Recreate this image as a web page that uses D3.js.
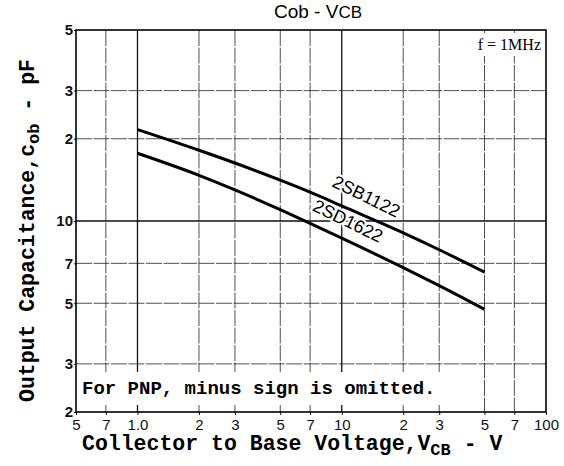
<!DOCTYPE html>
<html>
<head>
<meta charset="utf-8">
<script src="https://cdn.jsdelivr.net/npm/d3@7"></script>
<style>
  body { margin: 0; background: #fff; }
  svg { display: block; }
  .grid line { stroke: #222; stroke-width: 0.8; stroke-dasharray: 16 1.5; }
  .grid line.major { stroke: #111; stroke-width: 1.3; stroke-dasharray: none; }
  .tick text { fill: #111; }
</style>
</head>
<body>
<svg id="chart"></svg>
<script>
// data
const vcb = [1, 2, 3, 5, 7, 10, 20, 30, 50];
const cob2SB1122 = [21.6, 18.15, 16.3, 14.1, 12.75, 11.35, 9.05, 7.85, 6.5];
const cob2SD1622 = [17.7, 14.7, 13.0, 11.0, 9.8, 8.65, 6.75, 5.8, 4.75];

const xTicks = [0.5, 0.7, 1, 2, 3, 5, 7, 10, 20, 30, 50, 70, 100];
const xTickLabels = ['5', '7', '1.0', '2', '3', '5', '7', '10', '2', '3', '5', '7', '100'];
const yTicks = [2, 3, 5, 7, 10, 20, 30, 50];
const yTickLabels = ['2', '3', '5', '7', '10', '2', '3', '5'];

const width = 564, height = 466;
const margin = { top: 30, right: 18, bottom: 54, left: 76 };
const w = width - margin.left - margin.right;
const h = height - margin.top - margin.bottom;

const mono = '"Liberation Mono", "Courier New", monospace';
const narrow = '"Liberation Sans Narrow", "Liberation Sans", Arial, sans-serif';

const svg = d3.select('#chart').attr('width', width).attr('height', height);
svg.append('rect').attr('width', width).attr('height', height).attr('fill', '#fff');

const g = svg.append('g').attr('transform', `translate(${margin.left},${margin.top})`);

const x = d3.scaleLog().domain([0.5, 100]).range([0, w]);
const y = d3.scaleLog().domain([2, 50]).range([h, 0]);

// grid
const grid = g.append('g').attr('class', 'grid');
grid.selectAll('.vx')
  .data(xTicks.filter((d) => d > 0.5 && d < 100))
  .enter().append('line')
  .attr('class', (d) => d === 1 || d === 10 ? 'major' : null)
  .attr('x1', (d) => x(d)).attr('x2', (d) => x(d))
  .attr('y1', 0).attr('y2', h);
grid.selectAll('.hy')
  .data(yTicks.filter((d) => d > 2 && d < 50))
  .enter().append('line')
  .attr('class', (d) => d === 10 ? 'major' : null)
  .attr('x1', 0).attr('x2', w)
  .attr('y1', (d) => y(d)).attr('y2', (d) => y(d));

// axes
const xAxis = d3.axisBottom(x).tickValues(xTicks)
  .tickFormat((d, i) => xTickLabels[i]).tickSize(3).tickPadding(4);
const yAxis = d3.axisLeft(y).tickValues(yTicks)
  .tickFormat((d, i) => yTickLabels[i]).tickSize(2).tickPadding(1);

const xg = g.append('g').attr('transform', `translate(0,${h})`).call(xAxis);
xg.select('.domain').remove();
xg.selectAll('text').style('font-family', narrow).style('font-size', '15px');
xg.selectAll('line').attr('stroke', '#111');

const yg = g.append('g').call(yAxis);
yg.select('.domain').remove();
yg.selectAll('text').style('font-family', narrow).style('font-size', '15px').style('font-weight', 'bold');
yg.selectAll('line').attr('stroke', '#111');

// curves
const line = d3.line()
  .x((d) => x(d[0]))
  .y((d) => y(d[1]))
  .curve(d3.curveMonotoneX);

[cob2SB1122, cob2SD1622].forEach((series) => {
  g.append('path')
    .datum(vcb.map((v, i) => [v, series[i]]))
    .attr('fill', 'none')
    .attr('stroke', '#000')
    .attr('stroke-width', 3)
    .attr('d', line);
});

// curve labels, set along the lines
const labels = [
  { text: '2SB1122', v: 12.8, c: 11.75 },
  { text: '2SD1622', v: 10.4, c: 9.55 }
];
labels.forEach((l) => {
  g.append('text')
    .attr('transform', `translate(${x(l.v)},${y(l.c)}) rotate(26)`)
    .attr('text-anchor', 'middle')
    .style('font-family', narrow)
    .style('font-size', '18px')
    .attr('fill', '#000')
    .attr('stroke', '#fff')
    .attr('stroke-width', 4)
    .attr('paint-order', 'stroke')
    .text(l.text);
});

// f = 1MHz
g.append('rect').attr('x', w - 68).attr('y', 3).attr('width', 65).attr('height', 23).attr('fill', '#fff');
g.append('text')
  .attr('x', w - 5).attr('y', 20)
  .attr('text-anchor', 'end')
  .style('font-family', '"Liberation Serif", "Times New Roman", serif')
  .style('font-size', '16px')
  .text('f = 1MHz');

// note
g.append('rect').attr('x', 2).attr('y', h - 40).attr('width', 362).attr('height', 33).attr('fill', '#fff');
g.append('text')
  .attr('x', 6).attr('y', h - 18)
  .style('font-family', mono)
  .style('font-size', '19px')
  .style('font-weight', 'bold')
  .text('For PNP, minus sign is omitted.');

// frame
g.append('rect').attr('width', w).attr('height', h)
  .attr('fill', 'none').attr('stroke', '#000').attr('stroke-width', 1.6);

// title
const title = svg.append('text')
  .attr('x', 318).attr('y', 18)
  .attr('text-anchor', 'middle')
  .style('font-family', narrow)
  .style('font-size', '19px');
title.append('tspan').text('Cob  -  V');
title.append('tspan').style('font-size', '17px').text('CB');

// x axis title
const xt = svg.append('text')
  .attr('x', 82).attr('y', 450)
  .style('font-family', mono)
  .style('font-size', '21.5px')
  .style('font-weight', 'bold');
xt.append('tspan').text('Collector to Base Voltage,V');
xt.append('tspan').attr('dy', 5).style('font-size', '17px').text('CB');
xt.append('tspan').attr('dy', -5).text(' - V');

// y axis title
const yt = svg.append('text')
  .attr('transform', 'translate(34,402) rotate(-90)')
  .style('font-family', mono)
  .style('font-size', '21.5px')
  .style('font-weight', 'bold');
yt.append('tspan').text('Output Capacitance,c');
yt.append('tspan').attr('dy', 5).style('font-size', '17px').text('ob');
yt.append('tspan').attr('dy', -5).text(' - pF');
</script>
</body>
</html>
